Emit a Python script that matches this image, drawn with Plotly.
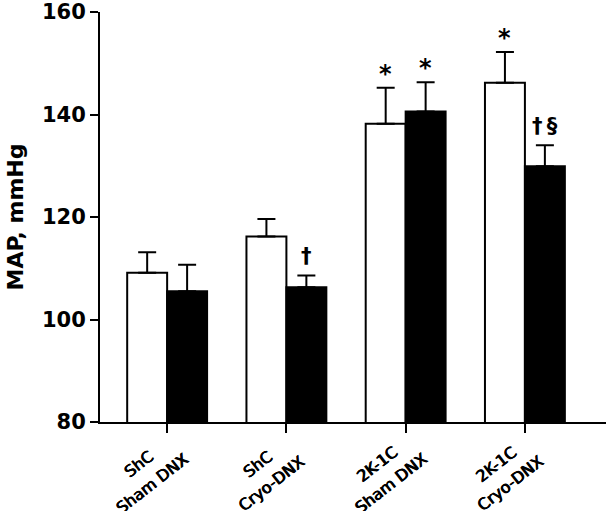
import plotly.graph_objects as go

cat_line1 = ["ShC", "ShC", "2K-1C", "2K-1C"]
cat_line2 = ["Sham DNX", "Cryo-DNX", "Sham DNX", "Cryo-DNX"]
white_vals = [109.1, 116.2, 138.2, 146.2]
white_err = [4.0, 3.4, 7.0, 6.0]
black_vals = [105.5, 106.3, 140.6, 129.9]
black_err = [5.2, 2.3, 5.7, 4.1]
white_marks = ["", "", "*", "*"]
black_marks = ["", "†", "*", "†\u2009§"]

xs = list(range(len(cat_line1)))
FONT = "DejaVu Sans, sans-serif"

fig = go.Figure()
fig.add_trace(go.Bar(
    x=xs, y=white_vals,
    marker=dict(color="white", line=dict(color="black", width=2)),
    error_y=dict(type="data", array=white_err, arrayminus=[0]*4, symmetric=False,
                 color="black", thickness=2, width=9),
    showlegend=False))
fig.add_trace(go.Bar(
    x=xs, y=black_vals,
    marker=dict(color="black", line=dict(color="black", width=2)),
    error_y=dict(type="data", array=black_err, arrayminus=[0]*4, symmetric=False,
                 color="black", thickness=2, width=9),
    showlegend=False))

bargap = 0.33
half = (1 - bargap) / 4
for i in xs:
    for vals, errs, marks, off in ((white_vals, white_err, white_marks, -half),
                                   (black_vals, black_err, black_marks, half)):
        if marks[i]:
            is_star = marks[i] == "*"
            fig.add_annotation(
                x=i + off, y=vals[i] + errs[i], xref="x", yref="y",
                text=marks[i], showarrow=False, yanchor="bottom",
                yshift=-2 if is_star else 5,
                font=dict(family=FONT, size=24 if is_star else 21, color="black", weight=700))

# rotated two-line category labels (one annotation per line); regular weight
# with a thin text shadow to thicken the strokes
for i in xs:
    for txt, dx, dy in ((cat_line1[i], -29, -42), (cat_line2[i], -15, -61)):
        fig.add_annotation(
            x=i, xref="x", y=0, yref="paper", xshift=dx, yshift=dy,
            text=txt, showarrow=False, textangle=-38,
            xanchor="center", yanchor="middle",
            font=dict(family=FONT, size=16, color="black",
                      shadow="0.5px 0 0 black, -0.5px 0 0 black"))

fig.update_layout(
    width=607, height=511,
    margin=dict(l=100, r=1, t=12, b=89),
    paper_bgcolor="white", plot_bgcolor="white",
    barmode="group", bargap=bargap, bargroupgap=0,
    font=dict(family=FONT, color="black"),
)
fig.update_xaxes(
    range=[-0.563, 3.68], tickmode="array", tickvals=xs, showticklabels=False,
    automargin=False,
    ticks="outside", ticklen=9, tickwidth=2, tickcolor="black",
    showline=True, linecolor="black", linewidth=2, showgrid=False, zeroline=False)
fig.update_yaxes(
    range=[80, 160], tickvals=[80, 100, 120, 140, 160], automargin=False,
    ticklabeloverflow="allow",
    ticks="outside", ticklen=8, tickwidth=2, tickcolor="black",
    showline=True, linecolor="black", linewidth=2, showgrid=False, zeroline=False,
    tickfont=dict(family=FONT, size=21, weight=700, color="black"),
    title=dict(text="MAP, mmHg", font=dict(family=FONT, size=22, weight=700, color="black"), standoff=12))

fig.write_html("out.html", config={"displayModeBar": False},
               post_script="document.body.style.margin='0';")
